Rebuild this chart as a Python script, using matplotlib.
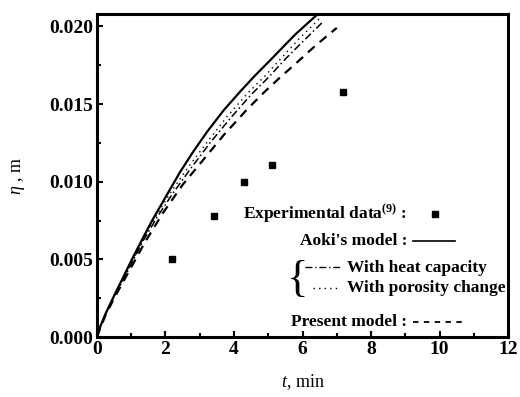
import numpy as np
import matplotlib
matplotlib.use('Agg')
import matplotlib.pyplot as plt
from matplotlib.ticker import MultipleLocator, FormatStrFormatter

plt.rcParams['font.family'] = 'Liberation Serif'
plt.rcParams['mathtext.fontset'] = 'custom'
plt.rcParams['mathtext.rm'] = 'Liberation Serif'
plt.rcParams['mathtext.it'] = 'Liberation Serif:italic'
plt.rcParams['mathtext.bf'] = 'Liberation Serif:bold'

# experimental data (ref. 9)
exp_t = [2.2, 3.42, 4.29, 5.1, 7.18]
exp_eta = [0.0050, 0.0078, 0.0100, 0.0111, 0.0158]

# Aoki's model
aoki_t = [0, 0.1, 0.25, 0.53, 0.8, 1.02, 1.3, 1.61, 2.0, 2.42, 2.8, 3.21,
          3.7, 4.18, 4.6, 5.05, 5.4, 5.8, 6.1, 6.45]
aoki_eta = [0, 0.0007, 0.0015, 0.0028, 0.0040, 0.0050, 0.0062, 0.0075, 0.0090,
            0.0106, 0.0119, 0.0132, 0.0146, 0.0158, 0.0168, 0.0178, 0.0186,
            0.0195, 0.0201, 0.0208]

# with heat capacity
heat_t = [0, 0.1, 0.25, 0.5, 0.8, 1.0, 1.35, 1.75, 2.2, 2.72, 3.3, 3.9, 4.5,
          5.0, 5.5, 6.0, 6.6]
heat_eta = [0, 0.0007, 0.0015, 0.0026, 0.0038, 0.0047, 0.0062, 0.0077, 0.0092,
            0.0108, 0.0125, 0.0141, 0.0156, 0.0167, 0.0179, 0.0190, 0.0203]

# with porosity change
poro_t = [0.5, 0.7, 1.0, 1.35, 1.7, 2.15, 2.62, 3.2, 3.8, 4.4, 4.9, 5.4, 5.9, 6.5]
poro_eta = [0.0027, 0.0035, 0.0048, 0.0063, 0.0077, 0.0093, 0.0108, 0.0125,
            0.0142, 0.0157, 0.0168, 0.0180, 0.0192, 0.0205]

# present model
pres_t = [0, 0.1, 0.25, 0.5, 0.8, 1.0, 1.4, 1.93, 2.5, 3.1, 3.7, 4.38, 4.9,
          5.34, 5.8, 6.4, 7.0]
pres_eta = [0, 0.0006, 0.0014, 0.0025, 0.0037, 0.0045, 0.0061, 0.0080, 0.0098,
            0.0114, 0.0130, 0.01465, 0.0158, 0.0167, 0.0176, 0.0188, 0.0199]

fig = plt.figure(figsize=(5.2, 3.97), dpi=100)
ax = fig.add_axes([0.1865, 0.151, 0.7905, 0.814])

ax.plot(aoki_t, aoki_eta, 'k-', lw=1.6)
ax.plot(heat_t, heat_eta, 'k', lw=1.1, linestyle=(0, (5, 2, 1, 2)))
ax.plot(poro_t, poro_eta, 'k', lw=1.0, linestyle=(0, (1, 3)))
ax.plot(pres_t, pres_eta, 'k', lw=1.6, linestyle=(0, (4, 3)))
ax.plot(exp_t, exp_eta, 'ks', ms=5)

ax.set_xlim(0, 12)
ax.set_ylim(0, 0.0208)
ax.xaxis.set_major_locator(MultipleLocator(2))
ax.xaxis.set_minor_locator(MultipleLocator(1))
ax.yaxis.set_major_locator(MultipleLocator(0.005))
ax.yaxis.set_minor_locator(MultipleLocator(0.0025))
ax.yaxis.set_major_formatter(FormatStrFormatter('%.3f'))
ax.tick_params(which='both', direction='in', top=False, right=False, width=1.5)
ax.tick_params(which='major', length=4, labelsize=14, pad=3)
ax.tick_params(which='minor', length=3)
for lab in ax.get_xticklabels() + ax.get_yticklabels():
    lab.set_fontweight('bold')
for s in ax.spines.values():
    s.set_linewidth(2.2)

ax.set_xlabel('$t$, min', fontsize=13, labelpad=10)
ax.set_ylabel('$\\eta$ , m', fontsize=13, labelpad=16)

# legend drawn by hand
tr = ax.transAxes
fs = 12.5
ax.text(0.754, 0.381, 'Experimental data$^{\\mathbf{(9)}}$ :', transform=tr,
        fontsize=fs, fontweight='bold', ha='right', va='center')
ax.plot([0.822], [0.381], 'ks', ms=4, transform=tr)
ax.text(0.754, 0.297, "Aoki's model :", transform=tr,
        fontsize=fs, fontweight='bold', ha='right', va='center')
ax.plot([0.768, 0.87], [0.297, 0.297], 'k-', lw=1.2, transform=tr)
ax.text(0.489, 0.178, '{', transform=tr, fontsize=32, ha='center', va='center')
ax.plot([0.505, 0.596], [0.217, 0.217], 'k', lw=1.0, linestyle=(0, (5, 2, 1, 2)), transform=tr)
ax.text(0.608, 0.214, 'With heat capacity', transform=tr,
        fontsize=fs, fontweight='bold', ha='left', va='center')
ax.plot([0.526, 0.586], [0.152, 0.152], 'k', lw=1.0, linestyle=(0, (1, 3)), transform=tr)
ax.text(0.608, 0.152, 'With porosity change', transform=tr,
        fontsize=fs, fontweight='bold', ha='left', va='center')
ax.text(0.754, 0.046, 'Present model :', transform=tr,
        fontsize=fs, fontweight='bold', ha='right', va='center')
ax.plot([0.77, 0.89], [0.046, 0.046], 'k', lw=1.3, linestyle=(0, (3, 3)), transform=tr)

fig.savefig('out.png', dpi=100)
